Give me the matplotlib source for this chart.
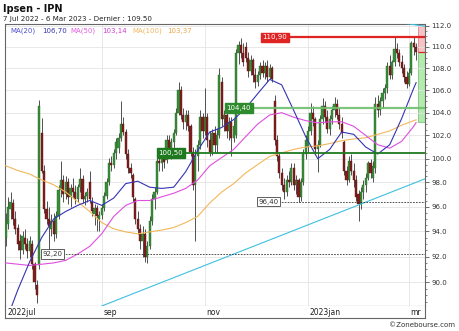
import numpy as np
import pandas as pd
import matplotlib
matplotlib.use("Agg")
import matplotlib.pyplot as plt
from matplotlib.ticker import FixedLocator, FuncFormatter, NullFormatter

# ---------------- data ----------------
opens = [93.5, 94.6, 95.8, 96.3, 95.0, 94.3, 93.2, 92.5, 93.5, 93.0,
         92.4, 93.0, 91.4, 89.8, 91.3, 102.2, 99.0, 95.8, 95.0, 94.2,
         94.8, 93.8, 95.2, 97.4, 98.2, 97.0, 98.0, 96.8, 97.5, 97.2,
         96.6, 97.6, 98.3, 96.6, 96.9, 98.0, 96.4, 95.4, 95.9, 95.0,
         95.3, 95.9, 96.9, 98.0, 99.6, 99.5, 100.5, 100.9, 101.8, 103.0,
         102.3, 100.4, 99.2, 98.6, 96.6, 95.0, 94.2, 93.2, 93.8, 92.0,
         92.8, 94.8, 96.6, 97.2, 99.8, 99.6, 100.3, 99.9, 101.6, 100.8,
         101.4, 102.2, 104.0, 106.0, 103.8, 103.2, 103.8, 102.8, 100.6, 97.8,
         100.2, 101.2, 103.6, 102.4, 103.6, 101.6, 100.6, 102.2, 101.2, 102.0,
         106.8, 103.4, 103.8, 102.4, 103.2, 101.8, 102.0, 109.4, 110.2, 109.4,
         110.0, 109.0, 107.8, 108.8, 107.4, 106.8, 107.4, 108.2, 107.6, 108.2,
         107.2, 108.0, 105.0, 101.6, 100.2, 98.8, 97.8, 97.2, 98.2, 98.0,
         99.2, 97.8, 98.2, 96.8, 98.0, 100.4, 101.0, 102.4, 104.0, 103.4,
         100.8, 101.2, 103.4, 104.6, 103.6, 102.6, 103.4, 104.2, 104.8, 103.8,
         103.0, 101.4, 99.0, 98.2, 99.8, 99.0, 98.2, 97.0, 96.2, 97.2,
         97.8, 98.4, 99.6, 98.4, 99.2, 104.8, 104.2, 105.0, 105.8, 106.2,
         108.2, 107.4, 108.6, 109.8, 109.4, 108.6, 108.0, 107.2, 106.6, 107.6,
         110.4, 110.0]
highs = [95.5, 96.8, 97.2, 96.6, 95.6, 94.6, 93.8, 94.0, 94.2, 93.5,
         93.6, 93.3, 91.6, 90.2, 105.1, 103.5, 99.5, 96.5, 96.0, 95.4,
         95.5, 95.6, 97.8, 99.8, 98.6, 98.5, 98.4, 97.9, 98.4, 97.8,
         97.9, 99.2, 98.6, 97.2, 97.5, 99.0, 96.8, 96.2, 96.1, 95.6,
         96.2, 97.2, 98.4, 100.1, 100.2, 100.8, 101.8, 102.2, 105.0, 103.6,
         102.6, 100.8, 99.6, 98.8, 96.8, 95.6, 94.6, 94.4, 94.2, 93.2,
         95.2, 97.0, 97.6, 100.2, 100.8, 100.6, 100.9, 102.0, 102.0, 101.8,
         102.6, 104.4, 106.8, 106.4, 104.4, 104.2, 104.2, 103.0, 101.0, 100.8,
         101.6, 104.2, 104.0, 106.2, 104.0, 102.4, 102.6, 102.8, 102.6, 108.0,
         107.2, 104.2, 104.0, 103.6, 103.6, 103.4, 109.8, 110.6, 110.8, 110.4,
         110.5, 109.5, 109.2, 109.0, 108.0, 107.8, 108.6, 108.8, 108.6, 108.8,
         108.4, 108.2, 105.6, 102.0, 100.6, 99.2, 98.4, 98.6, 99.0, 99.6,
         99.6, 98.6, 98.4, 98.4, 100.8, 102.0, 102.8, 104.9, 104.6, 103.6,
         101.6, 103.8, 105.3, 105.0, 104.2, 103.8, 104.6, 105.4, 105.2, 104.4,
         103.6, 101.6, 99.4, 100.2, 100.4, 99.6, 98.6, 97.4, 97.6, 98.2,
         98.8, 99.8, 100.0, 99.8, 105.4, 105.6, 105.4, 106.2, 106.6, 108.6,
         109.2, 108.8, 110.9, 110.4, 109.8, 109.2, 108.4, 107.8, 108.0, 110.6,
         110.9, 110.4]
lows = [92.8, 94.2, 95.0, 94.5, 93.8, 92.5, 91.8, 92.2, 92.6, 91.9,
        92.0, 91.0, 89.5, 88.4, 91.0, 98.8, 95.5, 94.6, 91.8, 93.6,
        93.2, 93.5, 95.0, 96.8, 96.4, 96.6, 96.2, 96.0, 96.8, 96.2,
        96.4, 97.2, 96.3, 96.1, 96.4, 96.3, 95.2, 94.5, 94.0, 94.0,
        95.0, 95.6, 96.6, 97.8, 99.0, 99.2, 100.0, 100.5, 101.5, 102.0,
        100.0, 98.8, 98.4, 96.4, 94.6, 93.8, 92.6, 92.0, 91.6, 91.5,
        92.6, 94.5, 95.8, 97.0, 99.0, 99.0, 99.2, 99.6, 100.4, 100.0,
        100.8, 102.0, 103.8, 103.4, 102.6, 102.5, 102.4, 100.2, 97.4, 93.2,
        99.0, 100.8, 101.8, 102.0, 101.0, 100.2, 100.3, 100.6, 100.5, 101.8,
        102.8, 102.4, 101.8, 101.6, 100.2, 101.4, 101.8, 108.4, 109.0, 108.2,
        108.6, 107.2, 107.4, 106.8, 106.2, 106.4, 107.0, 107.2, 107.0, 106.8,
        107.0, 106.8, 101.2, 99.8, 98.4, 97.4, 96.6, 96.9, 97.6, 97.8,
        97.4, 97.0, 96.4, 96.5, 97.8, 100.0, 100.6, 102.0, 102.8, 100.4,
        98.9, 101.0, 103.0, 103.2, 102.2, 102.0, 103.0, 103.6, 103.4, 102.6,
        101.8, 98.6, 97.8, 98.0, 98.6, 97.6, 96.5, 94.8, 95.8, 96.6,
        97.2, 98.2, 98.4, 98.0, 98.8, 103.6, 103.8, 104.4, 105.2, 105.8,
        107.0, 107.0, 108.2, 109.0, 108.2, 107.6, 106.8, 106.2, 106.4, 107.4,
        109.2, 108.8]
closes = [94.8, 96.0, 96.4, 95.0, 94.2, 93.0, 92.5, 93.6, 93.0, 92.4,
          93.2, 91.4, 90.0, 89.0, 104.6, 99.0, 95.8, 95.0, 94.4, 94.8,
          93.8, 95.2, 97.4, 98.2, 97.0, 98.0, 96.8, 97.5, 97.2, 96.6,
          97.6, 98.3, 96.6, 96.9, 97.2, 96.6, 95.6, 95.9, 95.2, 95.3,
          95.9, 96.9, 98.0, 99.6, 99.5, 100.5, 101.4, 101.8, 103.0, 102.3,
          100.4, 99.2, 98.8, 96.8, 95.0, 94.2, 93.2, 93.8, 92.0, 92.8,
          94.8, 96.6, 97.2, 99.8, 99.6, 100.3, 99.7, 101.6, 100.8, 101.4,
          102.2, 104.0, 106.0, 103.8, 103.2, 103.8, 102.8, 100.6, 97.8, 100.2,
          101.2, 103.6, 102.4, 103.6, 101.6, 100.6, 102.2, 101.2, 102.0, 107.4,
          103.4, 103.8, 102.4, 103.2, 101.8, 102.8, 109.4, 110.2, 109.4, 108.6,
          109.0, 107.8, 108.8, 107.4, 106.8, 107.4, 108.2, 107.6, 108.2, 107.2,
          108.0, 107.0, 101.6, 100.2, 98.8, 97.8, 97.2, 98.2, 98.0, 99.2,
          97.8, 98.2, 96.8, 98.0, 100.4, 101.6, 102.4, 104.0, 103.4, 100.8,
          101.2, 103.4, 104.6, 103.6, 102.6, 103.4, 104.2, 104.8, 103.8, 103.0,
          102.2, 99.0, 98.2, 99.8, 99.0, 98.2, 96.8, 96.2, 97.2, 97.8,
          98.4, 99.6, 98.8, 99.4, 104.8, 104.2, 105.0, 105.8, 106.2, 108.2,
          107.4, 108.6, 109.8, 109.4, 108.6, 108.0, 107.2, 106.6, 107.6, 110.4,
          110.0, 109.5]

ma_days = list(range(0, 171, 5)) + [171]
ma20 = [87.0, 89.4, 91.6, 93.5, 95.0, 95.6, 96.1, 96.5, 96.1, 96.7,
        97.9, 98.1, 97.6, 97.5, 97.6, 98.9, 100.7, 102.3, 102.7, 103.4,
        104.4, 105.7, 107.0, 106.5, 104.2, 101.9, 100.0, 100.8, 102.3, 102.1,
        101.0, 100.4, 101.2, 103.5, 106.2, 106.7]
ma50 = [91.5, 91.4, 91.3, 91.4, 91.5, 91.7, 92.2, 92.8, 93.8, 95.2,
        96.1, 96.5, 96.5, 96.8, 97.1, 97.5, 98.2, 99.4, 100.1, 100.8,
        101.9, 103.0, 103.8, 104.0, 103.6, 103.3, 103.1, 103.2, 103.2, 102.8,
        102.0, 101.2, 100.9, 101.5, 102.8, 103.14]
ma100 = [99.4, 99.0, 98.7, 98.2, 97.8, 97.2, 96.4, 95.6, 94.7, 94.2,
         93.95, 93.8, 93.95, 94.1, 94.3, 94.7, 95.2, 96.3, 97.2, 97.9,
         98.8, 99.5, 100.2, 100.5, 100.8, 101.0, 101.1, 101.3, 101.55, 101.7,
         101.8, 102.1, 102.4, 102.9, 103.3, 103.37]

levels_solid = [110.90, 104.40, 100.50]
levels_dashed = [96.40, 92.20]
last_price = 109.50
trend_days = [40, 174.7]
trend_prices = [88.2, 98.3]
upper_days = [163, 174.7]
upper_prices = [112.35, 111.95]

month_keys = ["2022-07", "2022-09", "2022-11", "2023-01", "2023-03"]
month_labels = ["2022jul", "sep", "nov", "2023jan", "mr"]

# ---------------- figure ----------------
W, H = 460, 331
fig = plt.figure(figsize=(W / 100, H / 100), dpi=100)
fig.patch.set_facecolor("white")
L, R, T, BT, B = 5, 425, 24, 306, 318
ax = fig.add_axes([L / W, 1 - BT / H, (R - L) / W, (BT - T) / H])
axb = fig.add_axes([L / W, 1 - B / H, (R - L) / W, (B - BT) / H])

o = np.array(opens); h = np.array(highs); l = np.array(lows); c = np.array(closes)
n = len(c)
x = np.arange(n)
XMIN, XMAX = -0.3, 174.7
YMIN, YMAX = 88.2, 112.17

ax.set_yscale("log")
ax.set_xlim(XMIN, XMAX)
ax.set_ylim(YMIN, YMAX)

# dates / month grid
dates = pd.bdate_range("2022-07-07", "2023-03-06", freq="C", holidays=["2022-12-26"])
mstr = dates.strftime("%Y-%m")
month_pos = [int(np.argmax(mstr == k)) for k in month_keys]

for p in month_pos[1:]:
    ax.axvline(p, color="#e4e4e4", lw=0.6, zorder=0)

# y axis
majors = np.arange(90, 113, 2.0)
minors = np.arange(88.5, 112.1, 0.5)
ax.yaxis.set_major_locator(FixedLocator(majors))
ax.yaxis.set_minor_locator(FixedLocator(minors))
ax.yaxis.set_major_formatter(FuncFormatter(lambda v, _: f"{v:.1f}"))
ax.yaxis.set_minor_formatter(NullFormatter())
ax.yaxis.tick_right()
ax.tick_params(axis="y", which="major", labelsize=5, length=3, width=0.6,
               color="#555555", labelcolor="#333333", pad=1.5)
ax.tick_params(axis="y", which="minor", length=1.6, width=0.5, color="#555555")
ax.set_xticks([])
ax.grid(axis="y", which="major", color="#e4e4e4", lw=0.6, zorder=0)
for s in ax.spines.values():
    s.set_color("#666666"); s.set_linewidth(0.8)

# candles
up = c >= o
bb = np.minimum(o, c)
bh = np.maximum(np.abs(c - o), 0.08)
ax.vlines(x, l, h, color="#505050", lw=0.7, zorder=2)
ax.bar(x[up], bh[up], bottom=bb[up], width=0.85, color="#3a8c3a",
       edgecolor="#2b6b2b", lw=0.3, zorder=3)
ax.bar(x[~up], bh[~up], bottom=bb[~up], width=0.85, color="#7f1d1d",
       edgecolor="#5e1515", lw=0.3, zorder=3)

# moving averages
ax.plot(ma_days, ma100, color="#f3b75a", lw=0.8, zorder=4)
ax.plot(ma_days, ma50, color="#de4fde", lw=0.8, zorder=4)
ax.plot(ma_days, ma20, color="#3434b4", lw=0.8, zorder=4)

# trend lines
ax.plot(trend_days, trend_prices, color="#3ec0e0", lw=0.8, zorder=4)
ax.plot(upper_days, upper_prices, color="#3ec0e0", lw=0.8, zorder=4)

# last price zone
x0 = n - 0.4
ax.fill_between([x0, XMAX], last_price, YMAX, color="#f6c4c4", ec="#e07070", lw=0.5, zorder=1)
ax.fill_between([x0, XMAX], ma50[-1], last_price, color="#b4eaae", ec="#5fbf5f", lw=0.5, zorder=1)

# support / resistance levels
lbl_fs = 5
ax.hlines(levels_solid[0], 106.8, XMAX, color="#e02424", lw=1.6, zorder=5)
ax.text(106.9, levels_solid[0], "110,90", fontsize=lbl_fs, color="white", va="center", ha="left",
        zorder=7, bbox=dict(boxstyle="square,pad=0.25", fc="#e02424", ec="#e02424"))
ax.hlines(levels_solid[1], 91.8, XMAX, color="#6fbf6f", lw=1.6, zorder=5, alpha=0.9)
ax.text(91.9, levels_solid[1], "104,40", fontsize=lbl_fs, color="white", va="center", ha="left",
        zorder=7, bbox=dict(boxstyle="square,pad=0.25", fc="#2e8b2e", ec="#2e8b2e"))
ax.hlines(levels_solid[2], 63.5, XMAX, color="#1f7a1f", lw=1.3, zorder=5)
ax.text(63.6, levels_solid[2], "100,50", fontsize=lbl_fs, color="white", va="center", ha="left",
        zorder=7, bbox=dict(boxstyle="square,pad=0.25", fc="#1f7a1f", ec="#1f7a1f"))
ax.hlines(levels_dashed[0], 105.2, XMAX, color="#333333", lw=0.6, linestyles=(0, (2, 1.5)), zorder=5)
ax.text(105.3, levels_dashed[0], "96,40", fontsize=lbl_fs, color="#333333", va="center", ha="left",
        zorder=7, bbox=dict(boxstyle="square,pad=0.25", fc="white", ec="#444444", lw=0.6))
ax.hlines(levels_dashed[1], 15.2, XMAX, color="#333333", lw=0.6, linestyles=(0, (2, 1.5)), zorder=5)
ax.text(15.3, levels_dashed[1], "92,20", fontsize=lbl_fs, color="#333333", va="center", ha="left",
        zorder=7, bbox=dict(boxstyle="square,pad=0.25", fc="white", ec="#444444", lw=0.6))

ax.hlines(last_price, x0, XMAX, color="#e02424", lw=0.9, zorder=6)

# month band
axb.set_xlim(XMIN, XMAX)
axb.set_ylim(0, 1)
axb.set_xticks([]); axb.set_yticks([])
for k, s in axb.spines.items():
    s.set_color("#666666"); s.set_linewidth(0.8)
axb.spines["top"].set_visible(False)
for p, lab in zip(month_pos, month_labels):
    axb.text(p + 0.6, 0.45, lab, fontsize=5.5, color="#222222", ha="left", va="center", clip_on=True)

# titles & legend
fig.text(3 / W, 1 - 8.5 / H, "Ipsen - IPN", fontsize=7, weight="bold", color="#111111",
         ha="left", va="center")
fig.text(3 / W, 1 - 18.5 / H, "7 Jul 2022 - 6 Mar 2023 - Dernier : 109.50", fontsize=5.1,
         color="#222222", ha="left", va="center")
leg_y = 1 - 31 / H
items = [(10, "MA(20)", "#5050d0"), (42, "106,70", "#3434b4"),
         (70, "MA(50)", "#e060e0"), (102, "103,14", "#d040d0"),
         (132, "MA(100)", "#f0b860"), (167, "103,37", "#e8a848")]
for px, t, col in items:
    fig.text(px / W, leg_y, t, fontsize=5, color=col, ha="left", va="center")
fig.text(455 / W, 1 - 325 / H, "\u00a9Zonebourse.com", fontsize=5, color="#333333",
         ha="right", va="center")

fig.savefig("out.png", dpi=100, facecolor="white")
